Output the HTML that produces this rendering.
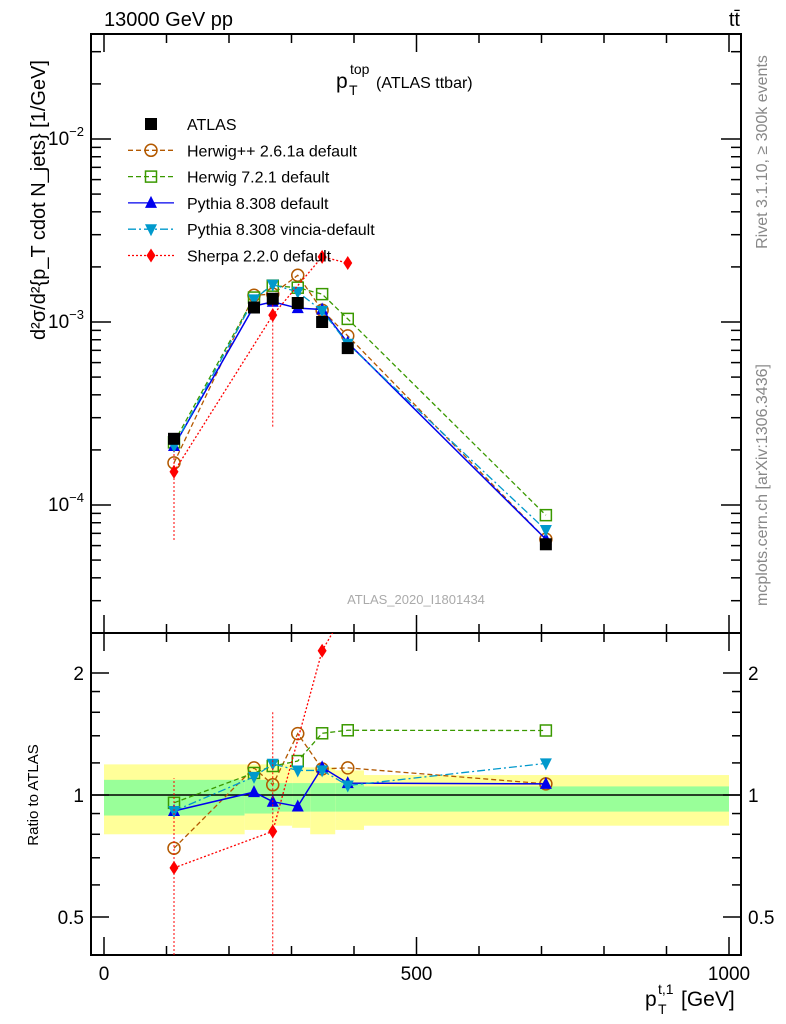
<!DOCTYPE html>
<html><head><meta charset="utf-8"><style>
html,body{margin:0;background:#fff;width:786px;height:1024px;overflow:hidden}
svg{font-family:"Liberation Sans",sans-serif;display:block}
</style></head><body>
<svg id="c" width="786" height="1024" xmlns="http://www.w3.org/2000/svg">
<text x="104" y="26" font-size="20">13000 GeV pp</text>
<text x="740" y="26" font-size="20" text-anchor="end">tt̄</text>
<g>
<text x="336" y="88" font-size="21">p</text>
<text x="350" y="74" font-size="14">top</text>
<text x="349" y="95" font-size="14">T</text>
<text x="376" y="88" font-size="16">(ATLAS ttbar)</text>
</g>
<text x="416" y="604" font-size="13" fill="#aaa" text-anchor="middle">ATLAS_2020_I1801434</text>
<text transform="translate(767,152) rotate(-90)" font-size="16" fill="#888" text-anchor="middle">Rivet 3.1.10, ≥ 300k events</text>
<text transform="translate(767,485) rotate(-90)" font-size="16" fill="#888" text-anchor="middle">mcplots.cern.ch [arXiv:1306.3436]</text>
<text transform="translate(45,200) rotate(-90)" font-size="20" text-anchor="middle">d²σ/d²{p_T cdot N_jets} [1/GeV]</text>
<text transform="translate(38,795) rotate(-90)" font-size="15" text-anchor="middle">Ratio to ATLAS</text>
<g>
<text x="645" y="1006" font-size="21">p</text>
<text x="658" y="1014" font-size="14">T</text>
<text x="658" y="994" font-size="14">t,1</text>
<text x="681" y="1006" font-size="21">[GeV]</text>
</g>
<g id="g"></g>
</svg>
<script>
const xs=[112,240,270,310,349,390,707];
const atlas=[2.3e-4,1.2e-3,1.34e-3,1.27e-3,1.0e-3,7.2e-4,6.1e-5];
const herwigpp=[1.7e-4,1.4e-3,1.42e-3,1.8e-3,1.16e-3,8.4e-4,6.5e-5];
const herwig7=[2.2e-4,1.36e-3,1.58e-3,1.54e-3,1.42e-3,1.04e-3,8.8e-5];
const pythia=[2.1e-4,1.22e-3,1.29e-3,1.19e-3,1.17e-3,7.7e-4,6.5e-5];
const vincia=[2.1e-4,1.33e-3,1.6e-3,1.46e-3,1.15e-3,7.6e-4,7.3e-5];
const sherpaX=[112,270,349,390];
const sherpa=[1.52e-4,1.09e-3,2.27e-3,2.1e-3];
const bandEdges=[0,225,272,301,330,370,416,1000];
const greenHi=[1.09,1.09,1.07,1.07,1.07,1.07,1.05];
const greenLo=[0.89,0.9,0.91,0.91,0.91,0.91,0.91];
const yellowHi=[1.19,1.19,1.19,1.17,1.17,1.15,1.12];
const yellowLo=[0.8,0.82,0.84,0.83,0.8,0.82,0.84];
const yTicks=[1e-4,1e-3,1e-2];
const xTicks=[0,500,1000];
const rTicks=[0.5,1,2];
const NS='http://www.w3.org/2000/svg';
const g=document.getElementById('g');
const X=v=>104+v*0.625;
const Y=v=>322+(-3-Math.log10(v))*183;
const R=v=>795-Math.log2(v)*122;
function mk(t,a,p){const e=document.createElementNS(NS,t);for(const k in a)e.setAttribute(k,a[k]);(p||g).appendChild(e);return e;}
for(let i=0;i<bandEdges.length-1;i++){
 const b1=mk('rect',{x:X(bandEdges[i]),y:R(yellowHi[i]),width:X(bandEdges[i+1])-X(bandEdges[i]),height:R(yellowLo[i])-R(yellowHi[i]),fill:'#ffff99'});
 
 
 const b2=mk('rect',{x:X(bandEdges[i]),y:R(greenHi[i]),width:X(bandEdges[i+1])-X(bandEdges[i]),height:R(greenLo[i])-R(greenHi[i]),fill:'#99ff99'});
 
 
}
mk('line',{x1:91,x2:741,y1:R(1),y2:R(1),stroke:'#000','stroke-width':1.5});
const f1=mk('rect',{x:91,y:34,width:650,height:599,fill:'none',stroke:'#000','stroke-width':2});


const f2=mk('rect',{x:91,y:633,width:650,height:322,fill:'none',stroke:'#000','stroke-width':2});


for(let v=0;v<=1000;v+=100){const L=v%500==0?18:9;
 for(const [y0,d] of [[633,-1],[955,-1],[34,1],[633,1]]) mk('line',{x1:X(v),x2:X(v),y1:y0,y2:y0+d*L,stroke:'#000','stroke-width':1.5});
}
xTicks.forEach(v=>{const t=mk('text',{x:X(v),y:980,'font-size':19,'text-anchor':'middle'});t.textContent=v;
 
 });
for(let e=-5;e<=-2;e++)for(let m=1;m<10;m++){const v=m*Math.pow(10,e);const y=Y(v);if(y<34||y>633)continue;const L=m==1?20:10;
 mk('line',{x1:91,x2:91+L,y1:y,y2:y,stroke:'#000','stroke-width':1.5});mk('line',{x1:741,x2:741-L,y1:y,y2:y,stroke:'#000','stroke-width':1.5});}
yTicks.forEach(v=>{const t=mk('text',{x:84,y:Y(v)+6,'font-size':19,'text-anchor':'end'});
 t.innerHTML='10<tspan font-size="13" dy="-9">−'+(-Math.round(Math.log10(v)))+'</tspan>';
 
 });
[0.5,0.6,0.7,0.8,0.9,1,1.2,1.4,1.6,1.8,2].forEach(v=>{const y=R(v);if(y<633||y>955)return;const L=[0.5,1,2].includes(v)?18:9;
 mk('line',{x1:91,x2:91+L,y1:y,y2:y,stroke:'#000','stroke-width':1.5});mk('line',{x1:741,x2:741-L,y1:y,y2:y,stroke:'#000','stroke-width':1.5});});
rTicks.forEach(v=>{for(const [x,a] of [[84,'end'],[748,'start']]){const t=mk('text',{x:x,y:R(v)+7,'font-size':19,'text-anchor':a});t.textContent=v;
 
 }});
const defs=mk('defs',{});
const cp1=mk('clipPath',{id:'cm'},defs);mk('rect',{x:91,y:34,width:650,height:599},cp1);
const cp2=mk('clipPath',{id:'cr'},defs);mk('rect',{x:91,y:633,width:650,height:322},cp2);
function marker(p,k,x,y,c){
 if(k=='sq')mk('rect',{x:x-6,y:y-6,width:12,height:12,fill:'#000'},p);
 if(k=='circ')mk('circle',{cx:x,cy:y,r:6,fill:'none',stroke:c,'stroke-width':1.5},p);
 if(k=='osq')mk('rect',{x:x-5.5,y:y-5.5,width:11,height:11,fill:'none',stroke:c,'stroke-width':1.5},p);
 if(k=='tri')mk('polygon',{points:`${x},${y-7} ${x-6},${y+5} ${x+6},${y+5}`,fill:c},p);
 if(k=='itri')mk('polygon',{points:`${x},${y+7} ${x-6},${y-5} ${x+6},${y-5}`,fill:c},p);
 if(k=='dia')mk('polygon',{points:`${x},${y-7} ${x-4.5},${y} ${x},${y+7} ${x+4.5},${y}`,fill:c},p);
}
const series=[
 {n:'herwigpp',x:xs,v:herwigpp,c:'#b35900',d:'5,3',k:'circ',w:1.3},
 {n:'herwig7',x:xs,v:herwig7,c:'#3a9900',d:'5,3',k:'osq',w:1.3},
 {n:'pythia',x:xs,v:pythia,c:'#0000ee',d:'',k:'tri',w:1.5},
 {n:'vincia',x:xs,v:vincia,c:'#0099cc',d:'8,3,2,3',k:'itri',w:1.3},
 {n:'sherpa',x:sherpaX,v:sherpa,c:'#ff0000',d:'2,2',k:'dia',w:1.3},
];
function atl(x){return atlas[xs.indexOf(x)];}
series.forEach(s=>{
 const gm=mk('g',{'clip-path':'url(#cm)'});
 
 
 mk('polyline',{points:s.x.map((x,i)=>X(x)+','+Y(s.v[i])).join(' '),fill:'none',stroke:s.c,'stroke-width':s.w,'stroke-dasharray':s.d},gm);
 s.x.forEach((x,i)=>marker(gm,s.k,X(x),Y(s.v[i]),s.c));
 const gr=mk('g',{'clip-path':'url(#cr)'});
 
 
 mk('polyline',{points:s.x.map((x,i)=>X(x)+','+R(s.v[i]/atl(x))).join(' '),fill:'none',stroke:s.c,'stroke-width':s.w,'stroke-dasharray':s.d},gr);
 s.x.forEach((x,i)=>marker(gr,s.k,X(x),R(s.v[i]/atl(x)),s.c));
});
[[112,0.28,1.1],[270,0.2,1.6]].forEach(([x,lo,hi])=>{
 mk('line',{x1:X(x),x2:X(x),y1:R(lo),y2:R(hi),stroke:'#f00','stroke-dasharray':'2,2','clip-path':'url(#cr)'});
 const a=atl(x),v=sherpa[sherpaX.indexOf(x)];
 mk('line',{x1:X(x),x2:X(x),y1:Y(v*lo/(v/a)),y2:Y(v*1.3),stroke:'#f00','stroke-dasharray':'2,2','clip-path':'url(#cm)'});
});
const ga=mk('g',{});


xs.forEach((x,i)=>marker(ga,'sq',X(x),Y(atlas[i]),'#000'));
const leg=[['ATLAS','sq','#000',''],['Herwig++ 2.6.1a default','circ','#b35900','5,3'],['Herwig 7.2.1 default','osq','#3a9900','5,3'],['Pythia 8.308 default','tri','#0000ee',''],['Pythia 8.308 vincia-default','itri','#0099cc','8,3,2,3'],['Sherpa 2.2.0 default','dia','#ff0000','2,2']];
leg.forEach((l,i)=>{const y=124+i*26.3;const lg=mk('g',{});
 
 
 if(i>0)mk('line',{x1:128,x2:174,y1:y,y2:y,stroke:l[2],'stroke-width':1.3,'stroke-dasharray':l[3]},lg);
 marker(lg,l[1],151,y,l[2]);
 const t=mk('text',{x:187,y:y+6,'font-size':16},lg);t.textContent=l[0];});
</script>
</body></html>
